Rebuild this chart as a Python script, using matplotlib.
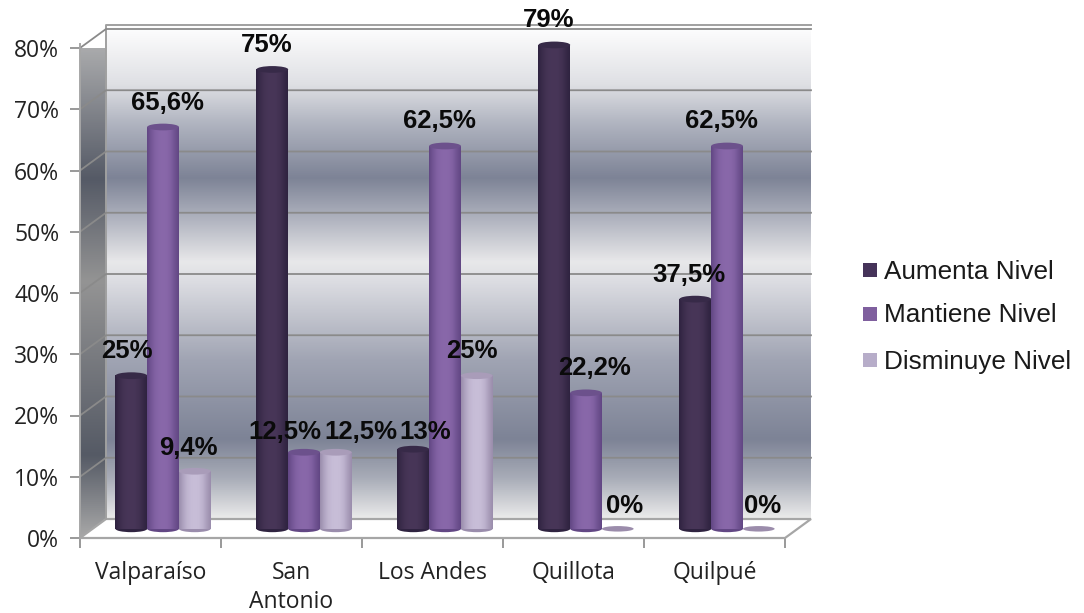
import numpy as np
import matplotlib
matplotlib.use('Agg')
import matplotlib.pyplot as plt
from matplotlib.colors import LinearSegmentedColormap
from matplotlib.patches import Ellipse, Polygon, Rectangle

categorias = ['Valparaíso', 'San\nAntonio', 'Los Andes', 'Quillota', 'Quilpué']
series = ['Aumenta Nivel', 'Mantiene Nivel', 'Disminuye Nivel']
aumenta = [25, 75, 13, 79, 37.5]
mantiene = [65.6, 12.5, 62.5, 22.2, 62.5]
disminuye = [9.4, 12.5, 25, 0, 0]
et_aumenta = ['25%', '75%', '13%', '79%', '37,5%']
et_mantiene = ['65,6%', '12,5%', '62,5%', '22,2%', '62,5%']
et_disminuye = ['9,4%', '12,5%', '25%', '0%', '0%']
yticks = [0, 10, 20, 30, 40, 50, 60, 70, 80]

# label nudges in pixels, from the bar centre
nudge_x = [[-4, -6, 12, -6, -6], [4, -19, -6, 8, -6], [-6, 25, -5, 7, 4]]
nudge_y = [[25, 24, 17, 25, 24], [24, 20, 25, 25, 25], [23, 20, 25, 23, 23]]

W, H = 1084, 613
colores = [('#2f2340', '#483658'), ('#624784', '#8968aa'), ('#9a8dac', '#c8bed8')]
tapas = ['#372a48', '#6c518c', '#a99cb9']
legend_col = ['#453359', '#7f5f9e', '#b7adc9']

fig = plt.figure(figsize=(W / 100, H / 100), dpi=100)
# axes: 0% at y=538, 80% at y=48, x 80..785 px
ax = fig.add_axes([80 / W, 1 - 538 / H, 705 / W, 490 / H])

dx = 26 / 141.0  # depth of the 3d box
dy = 19 / 6.125
top = 83.8

# back wall gradient
wall = LinearSegmentedColormap.from_list('wall', [
    (0.0, '#ffffff'), (0.12, '#dfe0e4'), (0.20, '#b0b4c0'), (0.31, '#7d8396'),
    (0.40, '#b4b7c2'), (0.48, '#e8e8ea'), (0.52, '#dcdde2'), (0.68, '#a0a4b3'),
    (0.84, '#7d8396'), (0.92, '#a9adb8'), (1.0, '#ebebeb')])
g = np.linspace(0, 1, 256).reshape(-1, 1)
ax.imshow(g, cmap=wall, aspect='auto', extent=[dx, 5 + dx, dy, top], zorder=1, clip_on=False)

# left side wall
side = LinearSegmentedColormap.from_list('side', [
    (0, '#b8b8b8'), (0.3, '#555a66'), (0.5, '#949494'), (0.84, '#555a65'), (1, '#a8a8a8')])
im = ax.imshow(g, cmap=side, aspect='auto', extent=[0, dx, 0, top], zorder=1)
im.set_clip_path(Polygon([[0, 0], [dx, dy], [dx, top], [0, top - dy]], transform=ax.transData))

# floor
ax.add_patch(Polygon([[0, 0], [dx, dy], [5 + dx, dy], [5, 0]], fc='#ffffff', ec='#a6a6a6', lw=1.6,
                     zorder=2, clip_on=False))
ax.plot([dx, dx, 5 + dx], [dy, top, top], color='#a0a0a0', lw=1.4, zorder=2, clip_on=False)

# grid lines on the walls
for t in yticks[1:]:
    ax.plot([0, dx, 5 + dx], [t, t + dy, t + dy], color='#8a8a8a', lw=1.3, zorder=2, clip_on=False)
ax.plot([0, 0], [0, top - dy], color='#a6a6a6', lw=1.4, zorder=2, clip_on=False)

# cylinders
ancho = 0.225
off = 0.089
base = 1.5
grad = np.array([0, .45, .8, .95, 1, .95, .75, .35, 0])
valores = [aumenta, mantiene, disminuye]
etiquetas = [et_aumenta, et_mantiene, et_disminuye]
for s in range(3):
    cmap = LinearSegmentedColormap.from_list('c%d' % s, colores[s])
    for i in range(5):
        x0 = i + 0.5 + off + (s - 1.5) * ancho
        v = valores[s][i]
        alto = 1.1
        if v > 0:
            ax.imshow(np.interp(np.linspace(0, 1, 64), np.linspace(0, 1, 9), grad).reshape(1, -1),
                      cmap=cmap, aspect='auto', extent=[x0, x0 + ancho, base, base + v], zorder=3 + s * 0.1,
                      clip_on=False)
            ax.add_patch(Ellipse((x0 + ancho / 2, base), ancho, alto, fc=colores[s][0], ec='none',
                                 zorder=2.9 + s * 0.1, clip_on=False))
            ax.add_patch(Ellipse((x0 + ancho / 2, base + v), ancho, alto, fc=tapas[s], ec='none',
                                 zorder=3.05 + s * 0.1, clip_on=False))
        else:
            ax.add_patch(Ellipse((x0 + ancho / 2, base), ancho, 0.9, fc='#9b8cab', ec='none', zorder=3))
        ax.annotate(etiquetas[s][i], (x0 + ancho / 2, base + v), xytext=(nudge_x[s][i], nudge_y[s][i]),
                    textcoords='offset pixels', ha='center', va='center', fontsize=18.5, fontweight='bold',
                    family='Liberation Sans', color='#0a0a0a', zorder=6, annotation_clip=False)
ax.set_xlim(0, 5)
ax.set_ylim(0, 80)

ax.set_yticks(yticks)
ax.set_yticklabels(['%d%%' % t for t in yticks], fontsize=16.5, family='Open Sans', color='#222222')
ax.set_xticks(range(6))
ax.set_xticklabels([])
for k, c in enumerate(categorias):
    ax.text(k + 0.5, -3.7, c, ha='center', va='top', fontsize=16.5, family='Open Sans', color='#222222',
            linespacing=1.3, clip_on=False)
ax.tick_params(axis='both', color='#888888', length=7, width=1.2, pad=8)
for sp in ax.spines.values():
    sp.set_visible(False)

# legend
for n, yy in enumerate([270, 314, 360]):
    fig.patches.append(Rectangle((863 / W, 1 - (yy + 7) / H), 14 / W, 14 / H, transform=fig.transFigure,
                                 fc=legend_col[n], ec='none'))
    fig.text(884 / W, 1 - (yy - 1) / H, series[n], va='center_baseline', ha='left', fontsize=18.8,
             family='Liberation Sans', color='#1a1a1a')

fig.savefig('out.png', dpi=100)
